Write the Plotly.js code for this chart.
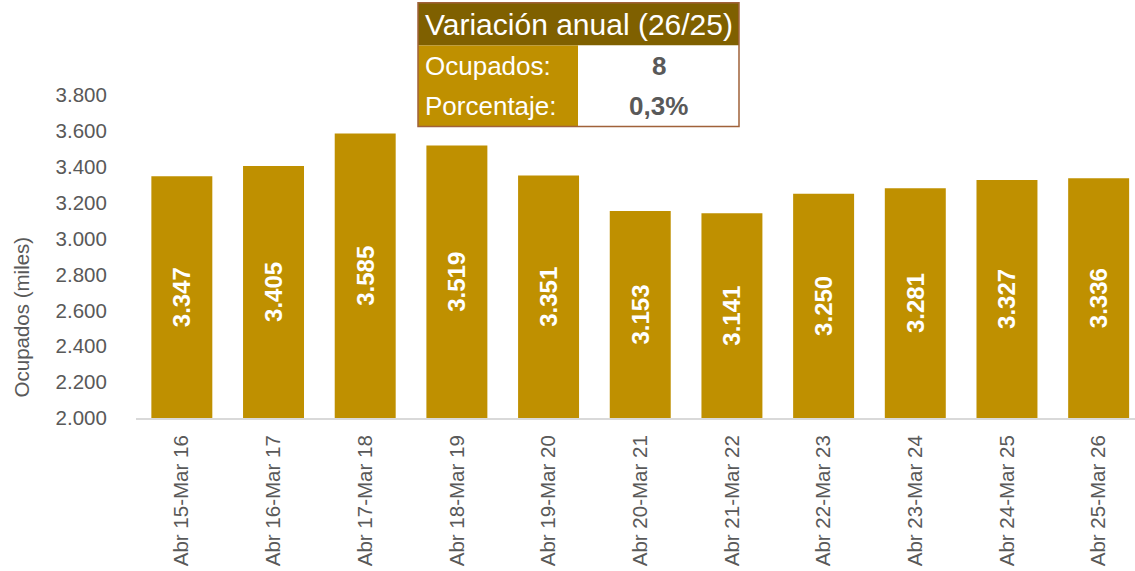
<!DOCTYPE html>
<html>
<head>
<meta charset="utf-8">
<script src="https://cdn.plot.ly/plotly-3.0.1.min.js"></script>
<style>
  html, body { margin: 0; padding: 0; background: #fff; }
  #plot { width: 1135px; height: 571px; }
</style>
</head>
<body>
<div id="plot"></div>
<script>
// Data
var periods = ['Abr 15-Mar 16', 'Abr 16-Mar 17', 'Abr 17-Mar 18', 'Abr 18-Mar 19',
               'Abr 19-Mar 20', 'Abr 20-Mar 21', 'Abr 21-Mar 22', 'Abr 22-Mar 23',
               'Abr 23-Mar 24', 'Abr 24-Mar 25', 'Abr 25-Mar 26'];
var ocupados = [3347, 3405, 3585, 3519, 3351, 3153, 3141, 3250, 3281, 3327, 3336];
var yTicks = [2000, 2200, 2400, 2600, 2800, 3000, 3200, 3400, 3600, 3800];
var yTitle = 'Ocupados (miles)';

// Summary box
var boxTitle = 'Variación anual (26/25)';
var boxLabels = ['Ocupados:', 'Porcentaje:'];
var boxValues = ['8', '0,3%'];

var W = 1135, H = 571;
var plotL = 136, plotR = 1135, plotT = 94.5, plotB = 418.3;
var yMin = 2000, yMax = 3800;

// pixel -> paper helpers (for the box above the plot)
function px(x) { return (x - plotL) / (plotR - plotL); }
function py(y) { return (plotB - y) / (plotB - plotT); }

// 3347 -> "3.347"
function fmt(v) {
    var s = String(Math.round(v));
    return s.replace(/\B(?=(\d{3})+(?!\d))/g, '.');
}

var gold = '#BF9000';
var dark = '#7F6000';
var grey = '#595959';
var font = 'Liberation Sans, Arial, sans-serif';

// bars start at the axis floor so the inside label sits in the visible middle
var trace = {
    x: periods,
    y: ocupados.map(function (v) { return v - yMin; }),
    base: yMin,
    type: 'bar',
    marker: { color: gold },
    width: 0.665,
    text: ocupados.map(fmt),
    textposition: 'inside',
    textangle: -90,
    insidetextanchor: 'middle',
    constraintext: 'none',
    textfont: { family: font, size: 24, color: '#ffffff', weight: 'bold' },
    hoverinfo: 'x+text'
};

// box geometry in pixels
var bx0 = 418, bx1 = 739, bxMid = 578;
var rowY = [2, 45, 86, 126];

var shapes = [
    { type: 'rect', xref: 'paper', yref: 'paper', x0: px(bx0), x1: px(bx1), y0: py(rowY[1]), y1: py(rowY[0]),
      fillcolor: dark, line: { width: 0 } },
    { type: 'rect', xref: 'paper', yref: 'paper', x0: px(bx0), x1: px(bxMid), y0: py(rowY[3]), y1: py(rowY[1]),
      fillcolor: gold, line: { width: 0 } },
    { type: 'rect', xref: 'paper', yref: 'paper', x0: px(bxMid), x1: px(bx1), y0: py(rowY[3]), y1: py(rowY[1]),
      fillcolor: '#ffffff', line: { width: 0 } },
    { type: 'rect', xref: 'paper', yref: 'paper', x0: px(bx0), x1: px(bx1), y0: py(rowY[3]), y1: py(rowY[0]),
      fillcolor: 'rgba(0,0,0,0)', line: { color: '#A0623A', width: 1.5 } }
];

var annotations = [
    { xref: 'paper', yref: 'paper', x: px(bx0 + 5), y: py((rowY[0] + rowY[1]) / 2), xanchor: 'left', yanchor: 'middle',
      text: boxTitle, showarrow: false, font: { family: font, size: 30, color: '#ffffff' } },
    // y-axis title sits lower than the axis middle in the reference
    { xref: 'paper', yref: 'paper', x: px(21), y: py(317.5), xanchor: 'center', yanchor: 'middle',
      text: yTitle, textangle: -90, showarrow: false, font: { family: font, size: 20.5, color: grey } }
];
for (var i = 0; i < boxLabels.length; i++) {
    var yc = py((rowY[i + 1] + rowY[i + 2]) / 2);
    annotations.push({ xref: 'paper', yref: 'paper', x: px(bx0 + 5), y: yc, xanchor: 'left', yanchor: 'middle',
        text: boxLabels[i], showarrow: false, font: { family: font, size: 26, color: '#ffffff' } });
    annotations.push({ xref: 'paper', yref: 'paper', x: px((bxMid + bx1) / 2), y: yc, xanchor: 'center', yanchor: 'middle',
        text: '<b>' + boxValues[i] + '</b>', showarrow: false, font: { family: font, size: 26, color: grey } });
}

var layout = {
    width: W,
    height: H,
    margin: { l: plotL, r: W - plotR, t: plotT, b: H - plotB },
    paper_bgcolor: '#ffffff',
    plot_bgcolor: '#ffffff',
    separators: ',.',
    showlegend: false,
    font: { family: font, color: grey },
    xaxis: {
        type: 'category',
        range: [-0.5, 10.5 - 9.5 / 91.7],
        tickangle: -90,
        tickfont: { size: 20.5, color: grey },
        showgrid: false,
        showline: true,
        linecolor: '#D9D9D9',
        linewidth: 2,
        ticks: 'outside',
        ticklen: 7,
        tickcolor: 'rgba(0,0,0,0)'
    },
    yaxis: {
        range: [yMin, yMax],
        tickvals: yTicks,
        tickformat: ',.0f',
        tickfont: { size: 20.5, color: grey },
        showgrid: false,
        zeroline: false,
        showline: false,
        ticks: 'outside',
        ticklen: 24,
        tickcolor: 'rgba(0,0,0,0)'
    },
    shapes: shapes,
    annotations: annotations
};

Plotly.newPlot('plot', [trace], layout, { displayModeBar: false, staticPlot: true });
</script>
</body>
</html>
